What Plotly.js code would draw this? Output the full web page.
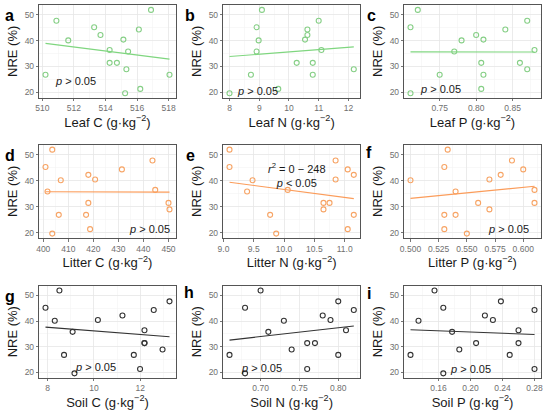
<!DOCTYPE html>
<html><head><meta charset="utf-8">
<script src="https://cdn.plot.ly/plotly-3.0.1.min.js"></script>
<style>html,body{margin:0;padding:0;background:#fff}#chart{width:550px;height:417px}</style>
</head><body><div id="chart"></div>
<script>
// NRE (%) values shared by every panel
const NRE = [51.9, 47.7, 45.2, 44.3, 42.2, 40.4, 40.1, 36.4, 35.8, 31.4, 31.4, 28.9, 26.8, 26.8, 21.3, 19.6];
// predictors (same order as NRE)
const leafC   = [516.88, 510.89, 513.28, 516.11, 513.68, 515.13, 511.64, 514.26, 515.43, 514.26, 514.72, 515.32, 510.2, 518.05, 516.2, 515.24];
const leafN   = [9.09, 11.0, 8.91, 10.62, 10.62, 10.54, 8.98, 11.09, 8.91, 10.26, 10.8, 12.18, 8.72, 10.8, 9.64, 8.0];
const leafP   = [0.72, 0.87, 0.71, 0.84, 0.80, 0.81, 0.78, 0.88, 0.77, 0.807, 0.86, 0.87, 0.75, 0.81, 0.807, 0.71];
const litterC = [403.6, 443.6, 400.9, 431.4, 418.0, 420.7, 407.0, 444.7, 401.7, 418.0, 450.0, 450.4, 406.2, 417.1, 418.7, 403.6];
const litterN = [9.10, 10.85, 9.10, 11.05, 11.15, 10.85, 9.48, 10.06, 9.39, 10.65, 10.75, 10.65, 9.77, 11.15, 11.05, 9.87];
const litterP = [0.533, 0.590, 0.530, 0.600, 0.580, 0.570, 0.500, 0.610, 0.540, 0.560, 0.610, 0.570, 0.530, 0.540, 0.530, 0.550];
const soilC   = [8.51, 13.26, 7.91, 12.58, 11.23, 10.17, 8.31, 12.18, 9.08, 12.18, 12.18, 12.96, 8.71, 11.72, 11.99, 9.16];
const soilN   = [0.70, 0.80, 0.68, 0.82, 0.78, 0.79, 0.73, 0.81, 0.71, 0.76, 0.77, 0.74, 0.66, 0.80, 0.76, 0.68];
const soilP   = [0.155, 0.238, 0.166, 0.28, 0.218, 0.228, 0.135, 0.26, 0.177, 0.207, 0.26, 0.186, 0.125, 0.249, 0.28, 0.166];

// tick values shown on each x axis
const tickLeafC   = [510, 512, 514, 516, 518];
const tickLeafN   = [8, 9, 10, 11, 12];
const tickLeafP   = [0.75, 0.80, 0.85];
const tickLitterC = [400, 410, 420, 430, 440, 450];
const tickLitterN = [9.0, 9.5, 10.0, 10.5, 11.0];
const tickLitterP = [0.500, 0.525, 0.550, 0.575, 0.600];
const tickSoilC   = [8, 10, 12];
const tickSoilN   = [0.70, 0.75, 0.80];
const tickSoilP   = [0.16, 0.20, 0.24, 0.28];
const tickNRE     = [20, 30, 40, 50];

const panelLetters = ['a','b','c','d','e','f','g','h','i'];
const xTitles = ['Leaf C','Leaf N','Leaf P','Litter C','Litter N','Litter P','Soil C','Soil N','Soil P'];
const unitText = ' (g·kg<sup>−2</sup>)';
const yTitle = 'NRE (%)';
const statTexts = ['<i>p</i> > 0.05','<i>p</i> > 0.05','<i>p</i> > 0.05','<i>p</i> > 0.05',
  '<i>r</i><sup>2</sup> = 0 − 248<br><i>p</i> < 0.05','<i>p</i> > 0.05','<i>p</i> > 0.05','<i>p</i> > 0.05','<i>p</i> > 0.05'];

const xs = [leafC, leafN, leafP, litterC, litterN, litterP, soilC, soilN, soilP];
const tks = [tickLeafC, tickLeafN, tickLeafP, tickLitterC, tickLitterN, tickLitterP, tickSoilC, tickSoilN, tickSoilP];
const colors = ['#86cf86','#86cf86','#86cf86','#f7a465','#f7a465','#f7a465','#333333','#333333','#333333'];
const lineColors = ['#7fd67f','#7fd67f','#7fd67f','#fb9c5a','#fb9c5a','#fb9c5a','#333333','#333333','#333333'];

// layout helpers
const W = 550, H = 417;
const colX = [[39.3,175.7],[223.3,360],[404.3,540.7]];
const rowY = [[5,97.7],[144.7,238],[285.7,377.7]];
const fmts = ['d','d','.2f','d','.1f','.3f','d','.2f','.2f'];
const statPos = [[0.10,0.18,'left'],[0.086,0.075,'left'],[0.10,0.09,'left'],[0.64,0.096,'left'],
  [0.536,0.68,'center'],[0.60,0.10,'left'],[0.245,0.116,'left'],[0.117,0.109,'left'],[0.318,0.09,'left']];
const letterPos = [[9,15],[190,15],[371,15],[10,155],[190,155],[369,153],[10,296],[189,292],[369,293]];

function ols(x, y){
  const n = x.length;
  const mx = x.reduce((a,b)=>a+b,0)/n, my = y.reduce((a,b)=>a+b,0)/n;
  let sxy=0, sxx=0;
  for(let i=0;i<n;i++){sxy+=(x[i]-mx)*(y[i]-my); sxx+=(x[i]-mx)*(x[i]-mx);}
  const b = sxy/sxx; return [my-b*mx, b];
}
function minorVals(t){
  const d = t[1]-t[0], out = [];
  for(let v=t[0]-d/2; v<=t[t.length-1]+d/2+1e-9; v+=d) out.push(+v.toFixed(6));
  return out;
}

const data = [], annotations = [];
const layout = {width:W, height:H, margin:{l:0,r:0,t:0,b:0}, showlegend:false,
  paper_bgcolor:'#fff', plot_bgcolor:'#fff',
  font:{family:'"Liberation Sans", Arial, sans-serif', color:'#1a1a1a'}};

for(let k=0;k<9;k++){
  const r = Math.floor(k/3), c = k%3;
  const sfx = k===0 ? '' : String(k+1);
  const xa = 'x'+sfx, ya = 'y'+sfx;
  const x = xs[k];
  const mn = Math.min(...x), mx = Math.max(...x), pad = (mx-mn)*0.05;
  data.push({type:'scatter', mode:'markers', x:x, y:NRE, xaxis:xa, yaxis:ya,
    marker:{symbol:'circle-open', size:5, color:colors[k], line:{width:1.1, color:colors[k]}}});
  const [a,b] = ols(x, NRE);
  data.push({type:'scatter', mode:'lines', x:[mn,mx], y:[a+b*mn, a+b*mx], xaxis:xa, yaxis:ya,
    line:{color:lineColors[k], width:1.1}, hoverinfo:'skip'});
  const common = {showline:true, mirror:true, linecolor:'#555', linewidth:1,
    showgrid:true, gridcolor:'#e6e6e6', gridwidth:0.8, zeroline:false,
    ticks:'outside', ticklen:2.5, tickwidth:0.8, tickcolor:'#555',
    tickfont:{size:8.5, color:'#707070'}};
  layout['xaxis'+sfx] = Object.assign({}, common, {
    domain:[colX[c][0]/W, colX[c][1]/W], anchor:ya, range:[mn-pad, mx+pad],
    tickmode:'array', tickvals:tks[k], tickformat:fmts[k],
    minor:{tickmode:'array', tickvals:minorVals(tks[k]), showgrid:true, gridcolor:'#f2f2f2', gridwidth:0.5, ticks:''},
    title:{text:xTitles[k]+unitText, font:{size:13, color:'#1a1a1a'}, standoff:3}});
  layout['yaxis'+sfx] = Object.assign({}, common, {
    domain:[1-rowY[r][1]/H, 1-rowY[r][0]/H], anchor:xa, range:[17.9, 53.8],
    tickmode:'array', tickvals:tickNRE,
    minor:{tickmode:'array', tickvals:minorVals(tickNRE), showgrid:true, gridcolor:'#f2f2f2', gridwidth:0.5, ticks:''},
    title:{text:yTitle, font:{size:13, color:'#1a1a1a'}, standoff:4}});
  annotations.push({xref:xa+' domain', yref:ya+' domain', x:statPos[k][0], y:statPos[k][1],
    xanchor:statPos[k][2], yanchor:'middle', showarrow:false, text:statTexts[k],
    font:{size:11, color:'#1a1a1a'}});
  annotations.push({xref:'paper', yref:'paper', x:letterPos[k][0]/W, y:1-letterPos[k][1]/H,
    xanchor:'center', yanchor:'middle', showarrow:false, text:'<b>'+panelLetters[k]+'</b>',
    font:{size:16, color:'#000'}});
}
layout.annotations = annotations;
Plotly.newPlot('chart', data, layout, {staticPlot:true, displayModeBar:false});
</script></body></html>
